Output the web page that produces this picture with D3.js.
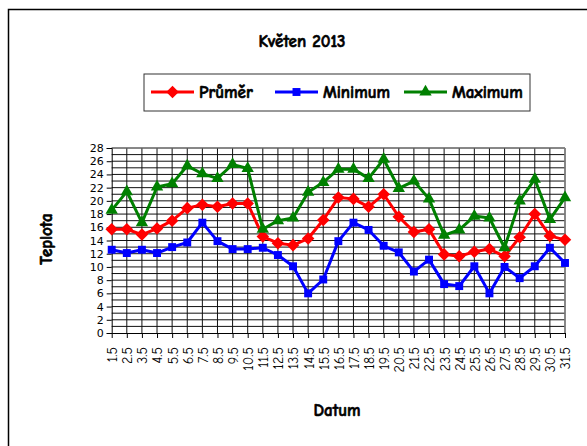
<!DOCTYPE html>
<html><head><meta charset="utf-8">
<script src="https://cdn.jsdelivr.net/npm/d3@7"></script>
<style>body{margin:0;background:#fff}svg{display:block}</style>
</head><body><svg id="c" width="587" height="446"></svg>
<script>
const categories = Array.from({length:31},(_,i)=>(i+1)+".5");
const prumer = [15.7,15.7,14.9,15.8,17.0,18.9,19.4,19.1,19.6,19.6,14.6,13.6,13.3,14.3,17.1,20.5,20.3,19.1,21.0,17.6,15.3,15.7,11.9,11.6,12.3,12.7,11.6,14.5,18.0,14.7,14.1];
const minimum = [12.6,12.1,12.6,12.1,13.0,13.7,16.7,13.9,12.7,12.7,12.9,11.8,10.1,6.0,8.1,13.9,16.7,15.6,13.2,12.2,9.3,11.1,7.4,7.1,10.1,6.0,10.0,8.3,10.1,12.9,10.6];
const maximum = [18.6,21.4,16.7,22.1,22.6,25.3,24.1,23.4,25.5,24.9,15.7,17.0,17.4,21.3,22.8,24.8,24.8,23.4,26.3,21.9,23.0,20.3,14.8,15.6,17.7,17.4,12.9,20.0,23.3,17.2,20.5];
const yTicks = [0,2,4,6,8,10,12,14,16,18,20,22,24,26,28];
const seriesNames = ["Průměr","Minimum","Maximum"];
const seriesColors = ["#ff0000","#0000ff","#008000"];
const seriesData = [prumer, minimum, maximum];
const seriesSymbols = [d3.symbolDiamond2, d3.symbolSquare2, d3.symbolTriangle2];

const font = '"Comic Sans MS","Comic Neue","DejaVu Sans",sans-serif';
const svg = d3.select("#c");
svg.append("rect").attr("x",8.5).attr("y",9.5).attr("width",600).attr("height",460)
  .attr("fill","#fff").attr("stroke","#000").attr("stroke-width",1.5);

const L=111.7, R=565, T=148, B=333;
const x = d3.scalePoint().domain(categories).range([L,R]);
const y = d3.scaleLinear().domain([0,28]).range([B,T]);

const g = svg.append("g");
g.selectAll("line.h").data(d3.range(1,29)).join("line")
  .attr("x1",L).attr("x2",R).attr("y1",d=>y(d)).attr("y2",d=>y(d))
  .attr("stroke","#111").attr("stroke-width",1);
g.selectAll("line.v").data(categories.slice(1)).join("line")
  .attr("x1",d=>x(d)).attr("x2",d=>x(d)).attr("y1",T).attr("y2",B)
  .attr("stroke","#111").attr("stroke-width",1);
g.append("line").attr("x1",L).attr("x2",R).attr("y1",T).attr("y2",T).attr("stroke","#888").attr("stroke-width",1);
g.append("line").attr("x1",R).attr("x2",R).attr("y1",T).attr("y2",B).attr("stroke","#888").attr("stroke-width",1.5);

const yAxis = d3.axisLeft(y).tickValues(yTicks).tickSize(5).tickPadding(3);
const ya = svg.append("g").attr("transform",`translate(${L},0)`).call(yAxis);
ya.selectAll("text").attr("font-family",'"DejaVu Sans",sans-serif').attr("font-size",11).attr("fill","#000");
ya.selectAll("line").attr("stroke","#000");
ya.select(".domain").attr("stroke","#000");

const xAxis = d3.axisBottom(x).tickSize(5).tickSizeOuter(0).tickPadding(3);
const xa = svg.append("g").attr("transform",`translate(0,${B})`).call(xAxis);
xa.select(".domain").attr("stroke","#000");
xa.selectAll("line").attr("stroke","#000");
xa.selectAll("text").attr("font-family",font).attr("font-size",14).attr("fill","#000")
  .attr("transform","rotate(-90)").attr("text-anchor","end").attr("dy","0.35em")
  .attr("x",-14).attr("y",0);

const line = d3.line().x((d,i)=>x(categories[i])).y(d=>y(d));
const symSize = [100,80,110];
seriesData.forEach((data,k)=>{
  svg.append("path").datum(data).attr("d",line).attr("fill","none")
    .attr("stroke",seriesColors[k]).attr("stroke-width",3).attr("stroke-linejoin","round");
  svg.selectAll(null).data(data).join("path")
    .attr("transform",(d,i)=>`translate(${x(categories[i])},${y(d)})`)
    .attr("d",d3.symbol().type(seriesSymbols[k]).size(symSize[k]))
    .attr("fill",seriesColors[k]);
});

function boldText(sel){
  return sel.attr("font-family",font).attr("font-weight","bold").attr("font-size",17)
    .attr("fill","#000").attr("stroke","#000").attr("stroke-width",0.6);
}

boldText(svg.append("text").attr("x",302).attr("y",47).attr("text-anchor","middle")).text("Květen 2013");

svg.append("rect").attr("x",144).attr("y",74).attr("width",386).attr("height",37)
  .attr("fill","#fff").attr("stroke","#333").attr("stroke-width",1);
const legX = [151, 275, 404];
seriesNames.forEach((n,k)=>{
  const lg = svg.append("g").attr("transform",`translate(${legX[k]},92)`);
  lg.append("line").attr("x1",0).attr("x2",43).attr("stroke",seriesColors[k]).attr("stroke-width",3);
  lg.append("path").attr("transform","translate(21.5,0)")
    .attr("d",d3.symbol().type(seriesSymbols[k]).size(symSize[k])).attr("fill",seriesColors[k]);
  boldText(lg.append("text").attr("x",48).attr("y",6)).text(n);
});

boldText(svg.append("text").attr("transform","translate(52,239) rotate(-90)").attr("text-anchor","middle")).text("Teplota");
boldText(svg.append("text").attr("x",337).attr("y",416).attr("text-anchor","middle")).text("Datum");
</script></body></html>
